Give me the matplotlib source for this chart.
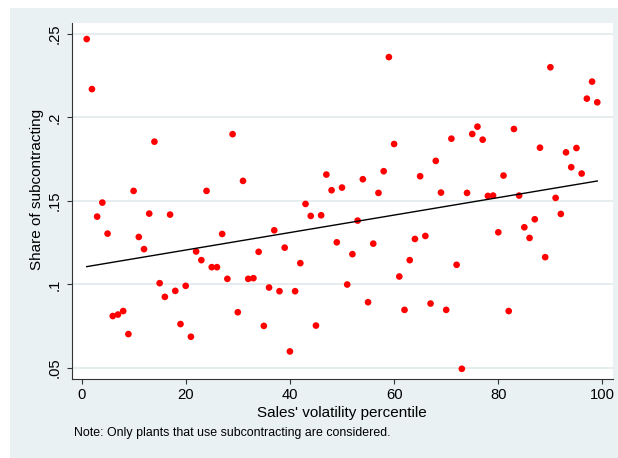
import numpy as np
import matplotlib
matplotlib.use('Agg')
from matplotlib import pyplot as plt
from matplotlib.patches import Rectangle

plt.rcParams['font.family'] = ['Liberation Sans', 'DejaVu Sans']

# volatility percentiles and the share of subcontracting at each one
pctile = np.arange(1, 100)
share = np.array([
    .247, .217, .1406, .149, .1304, .081, .0819, .084, .0702, .156,
    .1284, .1211, .1424, .1855, .1007, .0925, .1418, .0961, .0762, .0991,
    .0686, .1197, .1145, .156, .1103, .1103, .1302, .1033, .190, .0833,
    .162, .1033, .1037, .1195, .0751, .0981, .1324, .0959, .122, .0598,
    .0959, .1127, .1482, .141, .0753, .1414, .1658, .1564, .1252, .158,
    .0999, .1181, .1382, .163, .0893, .1244, .1548, .1678, .2362, .1841,
    .1047, .0847, .1145, .1272, .1648, .129, .0885, .174, .155, .0847,
    .1873, .1117, .0494, .1548, .1901, .1945, .1867, .153, .1532, .1312,
    .1652, .084, .1931, .1532, .1342, .1278, .139, .1819, .1163, .2301,
    .1518, .1422, .1791, .1702, .1817, .1664, .2113, .2215, .2091])

yticks = [.05, .1, .15, .2, .25]
ytick_labels = ['.05', '.1', '.15', '.2', '.25']
xticks = [0, 20, 40, 60, 80, 100]

# linear fit
b, a = np.polyfit(pctile, share, 1)
fit = a + b * pctile

W, H = 618, 458
fig = plt.figure(figsize=(W / 100, H / 100), dpi=100, facecolor='white')

bg = '#E9F1F3'
fig.add_artist(Rectangle((10 / W, 0), 1, 1 - 8 / H, transform=fig.transFigure,
                         facecolor=bg, edgecolor='none', zorder=-5))

ax = fig.add_axes([71.5 / W, 1 - 379.3 / H, (612.7 - 71.5) / W, (379.3 - 22.7) / H])
ax.set_facecolor('white')

for yv in yticks:
    ax.axhline(yv, color='#E3ECEE', lw=1.3, zorder=1)

ax.scatter(pctile, share, s=23, color='#FF0000', edgecolors='none', zorder=3)
ax.plot(pctile, fit, color='black', lw=1.0, zorder=4)

ax.set_xlim(-1.92, 101.96)
ax.set_ylim(.0431, .2568)
ax.set_xticks(xticks)
ax.set_yticks(yticks)
ax.set_yticklabels(ytick_labels, rotation=90, va='center')

for s in ['top', 'right']:
    ax.spines[s].set_visible(False)
for s in ['left', 'bottom']:
    ax.spines[s].set_linewidth(0.8)
    ax.spines[s].set_color('#333333')
ax.tick_params(direction='out', length=3.6, width=0.8, color='#333333',
               labelsize=10.6, pad=3)
ax.tick_params(axis='y', pad=3.5)

ax.set_xlabel("Sales' volatility percentile", fontsize=11)
ax.set_ylabel('Share of subcontracting', fontsize=11)
ax.xaxis.set_label_coords(0.5, -0.076)
ax.yaxis.set_label_coords(-0.051, 0.532)

fig.text(74 / W, 1 - 433 / H, 'Note: Only plants that use subcontracting are considered.',
         fontsize=8.9, va='center', ha='left')

fig.savefig('out.png', dpi=100, facecolor='white')
